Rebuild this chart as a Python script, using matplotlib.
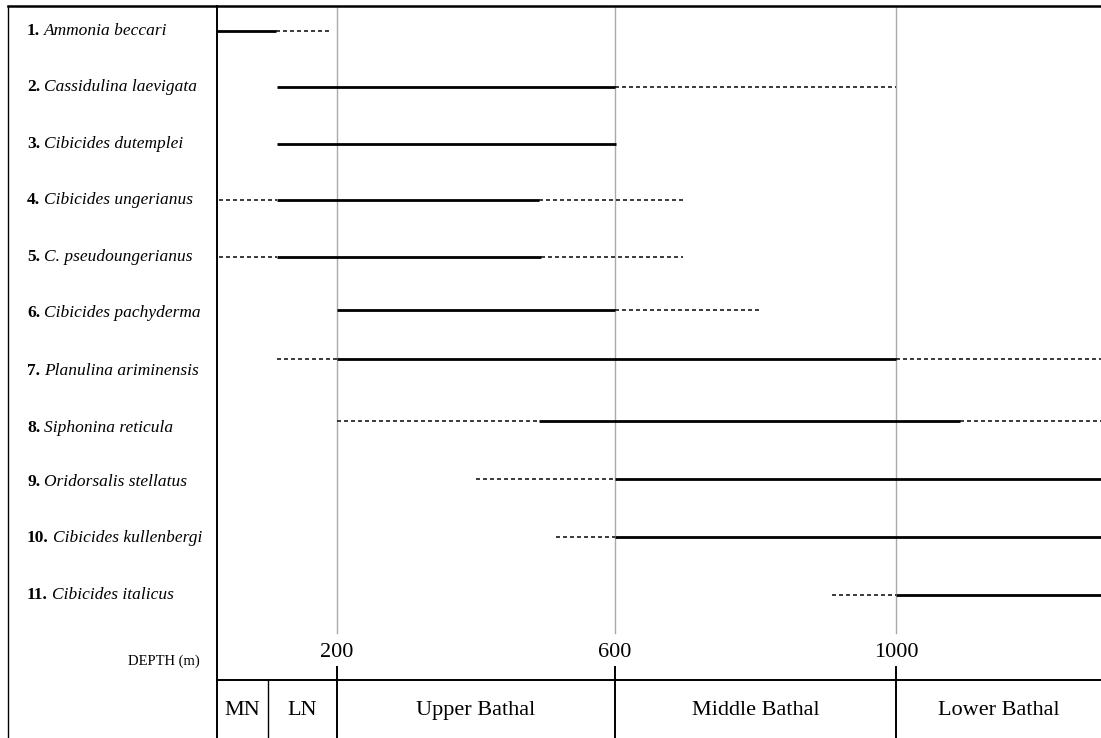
import numpy as np
import matplotlib
matplotlib.use("Agg")
import matplotlib.pyplot as plt
import matplotlib.transforms as mtransforms

plt.rcParams['font.family'] = ['Liberation Serif', 'DejaVu Serif']

# species and their depth ranges (m)
species = ["Ammonia beccari", "Cassidulina laevigata", "Cibicides dutemplei",
           "Cibicides ungerianus", "C. pseudoungerianus", "Cibicides pachyderma",
           "Planulina ariminensis", "Siphonina reticula", "Oridorsalis stellatus",
           "Cibicides kullenbergi", "Cibicides italicus"]
solid_from = [0, 100, 100, 100, 100, 200, 200, 490, 600, 600, 1000]
solid_to = [98, 600, 601, 490, 493, 600, 1000, 1091, 1300, 1300, 1300]
dashed = [[(98, 192)],
          [(600, 1000)],
          [],
          [(3, 100), (490, 697)],
          [(3, 100), (493, 697)],
          [(600, 805)],
          [(100, 200), (1000, 1300)],
          [(200, 490), (1091, 1300)],
          [(400, 600)],
          [(515, 600)],
          [(909, 1000)]]
# row of the range line / row of the label
line_row = [1, 2, 3, 4, 5, 5.95, 6.82, 7.91, 8.94, 9.97, 11.0]
label_row = [1, 2, 3, 4, 5, 6.0, 7.03, 8.04, 9.0, 10.0, 11.0]

depth_ticks = [200, 600, 1000]
zone_names = ["MN", "LN", "Upper Bathal", "Middle Bathal", "Lower Bathal"]
zone_edges = [0, 85, 200, 600, 1000, 1292]

# depth axis is stretched differently over the neritic part
knots_d = [0, 200, 600, 1000, 1400]
knots_p = [217, 337, 615, 896, 1177]
fwd = lambda d: np.interp(d, knots_d, knots_p)
inv = lambda p: np.interp(p, knots_p, knots_d)

W, H = 1101, 738
fig = plt.figure(figsize=(W / 100, H / 100), dpi=100)
ax = fig.add_axes([217 / W, 0, (W - 217) / W, 1])
ax.set_xscale('function', functions=(fwd, inv))
ax.set_xlim(0, 1292)
ax.set_ylim(13.54, 0.45)
ax.axis('off')

y_top, y_grid_end, y_tick_top, y_base = 0.557, 11.67, 12.28, 12.52

# grid lines
for d in depth_ticks:
    ax.plot([d, d], [y_top, y_grid_end], color='#aaaaaa', lw=1.0, zorder=1)

# ranges
for i in range(len(species)):
    y = line_row[i]
    ax.plot([solid_from[i], solid_to[i]], [y, y], color='black', lw=2.0,
            solid_capstyle='butt', zorder=3)
    for a, b in dashed[i]:
        ax.plot([a, b], [y, y], color='#1a1a1a', lw=1.2, dashes=(2.4, 1.8), zorder=2)

# frame
ax.plot([0, 0], [y_top, 13.6], color='black', lw=1.4, clip_on=False)
ax.plot([0, 1292], [y_base, y_base], color='black', lw=1.4, clip_on=False)
ftrans = mtransforms.blended_transform_factory(fig.transFigure, ax.transData)
ax.plot([8 / W, 1], [y_top, y_top], color='black', lw=1.8, transform=ftrans, clip_on=False)
ax.plot([8 / W, 8 / W], [y_top, 13.6], color='black', lw=1.0, transform=ftrans, clip_on=False)

# depth ticks and labels
for d in depth_ticks:
    ax.plot([d, d], [y_tick_top, 13.6], color='black', lw=1.4, clip_on=False)
    ax.text(d, 12.02, str(d), ha='center', va='center', fontsize=16)
ax.plot([85, 85], [y_base, 13.6], color='black', lw=1.0, clip_on=False)

# zone names centred in their band
for k, name in enumerate(zone_names):
    mid = inv((fwd(zone_edges[k]) + fwd(zone_edges[k + 1])) / 2)
    ax.text(mid, 13.05, name, ha='center', va='center', fontsize=16)

ax.text(200 / W, 12.18, "DEPTH (m)", transform=ftrans, ha='right', va='center',
        fontsize=10.5)

# species labels: bold number followed by italic name
renderer = fig.canvas.get_renderer()
for i, name in enumerate(species):
    num = ax.text(27 / W, label_row[i], "%d." % (i + 1), transform=ftrans,
                  ha='left', va='center', fontsize=12.5, fontweight='bold')
    x1 = num.get_window_extent(renderer).x1
    ax.text((x1 + 4) / W, label_row[i], name, transform=ftrans, ha='left',
            va='center', fontsize=12.5, fontstyle='italic')

fig.savefig("out.png", dpi=100)
